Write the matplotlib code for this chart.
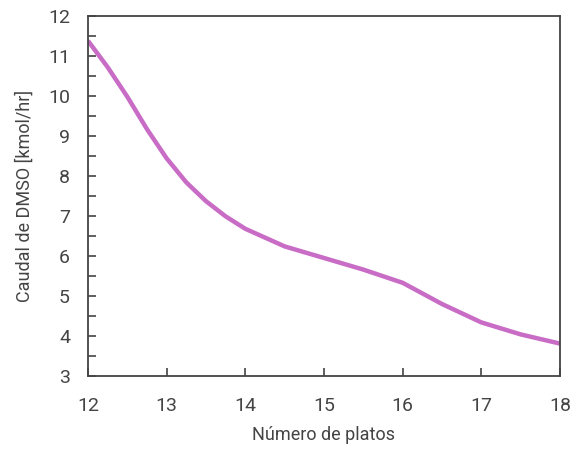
import matplotlib.pyplot as plt
from matplotlib.ticker import MultipleLocator

plt.rcParams['font.family'] = ['Roboto', 'DejaVu Sans']

# valores
platos = [12, 12.25, 12.5, 12.75, 13, 13.25, 13.5, 13.75, 14,
          14.5, 15, 15.5, 16, 16.5, 17, 17.5, 18]
caudal_dmso = [11.38, 10.72, 9.98, 9.17, 8.44, 7.84, 7.37, 6.99, 6.68,
               6.24, 5.95, 5.66, 5.33, 4.80, 4.34, 4.04, 3.81]

gris = '#444444'

fig = plt.figure(figsize=(5.71, 4.54), dpi=100)
ax = fig.add_axes([88 / 571, 1 - 376 / 454, 472 / 571, 360 / 454])

ax.plot(platos, caudal_dmso, color='#c86cc6', lw=3.2, solid_capstyle='butt',
        solid_joinstyle='round')

ax.set_xlim(12, 18)
ax.set_ylim(3, 12)
ax.xaxis.set_major_locator(MultipleLocator(1))
ax.yaxis.set_major_locator(MultipleLocator(1))
ax.yaxis.set_minor_locator(MultipleLocator(0.5))

ax.tick_params(axis='both', which='both', direction='in', length=6, width=1.2,
               color=gris, labelcolor=gris, labelsize=14)
ax.tick_params(axis='x', pad=15)
ax.tick_params(axis='y', pad=13)

for s in ax.spines.values():
    s.set_color(gris)
    s.set_linewidth(1.3)

ax.set_xlabel('Número de platos', fontsize=13, color=gris, labelpad=8)
ax.set_ylabel('Caudal de DMSO [kmol/hr]', fontsize=13, color=gris, labelpad=10)

fig.savefig('out.png', dpi=100)
